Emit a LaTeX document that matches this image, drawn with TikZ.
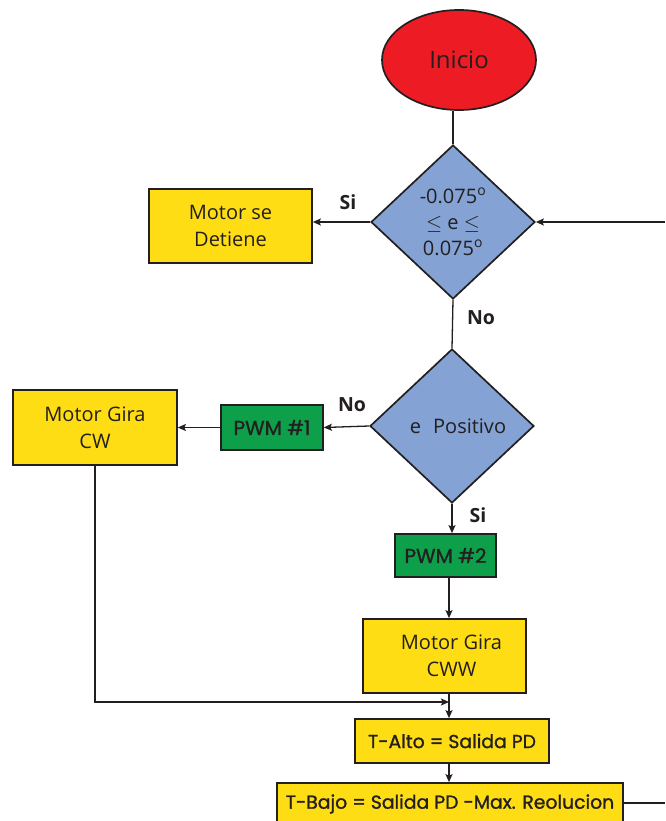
\documentclass[tikz,border=0pt]{standalone}
\usepackage{fontspec}
\setmainfont{Open Sans}
\newfontfamily\geo[FakeBold=1.2]{Poppins}
\usetikzlibrary{shapes.geometric,arrows.meta}
\definecolor{ink}{HTML}{231F20}
\definecolor{startred}{HTML}{ED1C24}
\definecolor{askblue}{HTML}{84A2D4}
\definecolor{boxyellow}{HTML}{FFDD15}
\definecolor{pwmgreen}{HTML}{0D9F4A}
\tikzset{
  base/.style={draw=ink, line width=1.7pt, text=ink, inner sep=0pt, align=center,
    font=\fontsize{20}{27}\selectfont},
  term/.style={base, ellipse, fill=startred, minimum width=154pt, minimum height=100pt,
    font=\fontsize{24}{27}\selectfont},
  decision/.style={base, diamond, fill=askblue, minimum width=164pt, minimum height=154pt},
  ybox/.style={base, rectangle, fill=boxyellow},
  gbox/.style={base, rectangle, fill=pwmgreen, font=\geo\fontsize{20}{24}\selectfont},
  tbox/.style={base, rectangle, fill=boxyellow, font=\geo\fontsize{18.8}{24}\selectfont},
  flow/.style={draw=ink, line width=1.3pt},
  arr/.style={flow, -{Stealth[length=8pt,width=7pt,inset=1.5pt]}},
  tag/.style={text=ink, font=\bfseries\fontsize{19.5}{22}\selectfont}
}
\begin{document}
\begin{tikzpicture}[x=1pt,y=-1pt]
\useasboundingbox[fill=white] (0,0) rectangle (665,821);

% blocks
\node[term] (inicio) at (459,60) {Inicio};
\node[decision, font=\fontsize{20}{26}\selectfont] (d1) at (453,222)
  {-0.075\textsuperscript{o}\\ $\le$ e $\le$\\ 0.075\textsuperscript{o}};
\node[ybox, minimum width=163pt, minimum height=74pt] (stop) at (230.5,226) {Motor se\\Detiene};
\node[decision] (d2) at (452,426) {\hspace*{12pt}e\hspace{0.6em}Positivo};
\node[gbox, minimum width=102pt, minimum height=45pt] (pwm1) at (272,427.5) {PWM \#1};
\node[ybox, minimum width=164pt, minimum height=75pt] (cw) at (95,427.5) {Motor Gira\\CW};
\node[gbox, minimum width=101pt, minimum height=43pt] (pwm2) at (445.5,555.5) {PWM \#2};
\node[ybox, minimum width=163pt, minimum height=74pt] (cww) at (444.5,656) {\hspace*{14pt}Motor Gira\\\hspace*{14pt}CWW};
\node[tbox, minimum width=194pt, minimum height=44pt] (talto) at (452,741) {T-Alto = Salida PD};
\node[tbox, minimum width=346pt, minimum height=42pt] (tbajo) at (450,804) {T-Bajo = Salida PD -Max. Reolucion};

% loose ends of the loop
\coordinate (back) at (665,222);
\coordinate (out) at (665,803);
\coordinate (join) at (449,702);

% connectors
\draw[flow] (inicio.south -| d1.north) -- (d1.north);
\draw[arr] (d1.west) -- (d1.west -| stop.east);
\draw[arr] (back) -- (d1.east);
\draw[flow] (d1.south) -- (d2.north);
\draw[arr] (d2.west) -- (pwm1.east);
\draw[arr] (pwm1.west) -- (cw.east);
\draw[arr] (d2.south) -- (d2.south |- pwm2.north);
\draw[arr] (join |- pwm2.south) -- (join |- cww.north);
\draw[arr] (join |- cww.south) -- (join |- talto.north);
\draw[arr] (cw.south) |- (join);
\draw[arr] (join |- talto.south) -- (join |- tbajo.north);
\draw[flow] (tbajo.east |- out) -- (out);

% branch labels
\node[tag] (si1) at (348,202) {Si};
\node[tag] (no1) at (481,318) {No};
\node[tag] (no2) at (352,405) {No};
\node[tag] (si2) at (478,515) {Si};
\end{tikzpicture}
\end{document}
